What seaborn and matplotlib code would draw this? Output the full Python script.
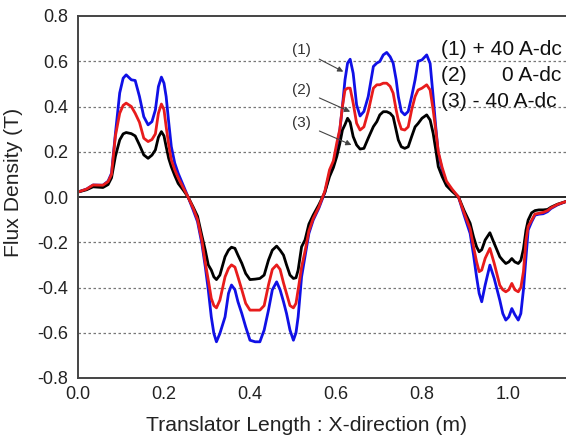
import numpy as np
import pandas as pd
import matplotlib
matplotlib.use("Agg")
import matplotlib.pyplot as plt
import seaborn as sns

# ---- data ----
x_pos = [0.000, 0.020, 0.035, 0.058, 0.070, 0.078, 0.087, 0.097, 0.105, 0.112,
         0.124, 0.133, 0.143, 0.153, 0.163, 0.172, 0.180, 0.187, 0.194, 0.200,
         0.205, 0.211, 0.217, 0.225, 0.233, 0.245, 0.256, 0.268, 0.278, 0.288,
         0.296, 0.303, 0.310, 0.316, 0.322, 0.330, 0.342, 0.350, 0.357, 0.365,
         0.372, 0.381, 0.390, 0.400, 0.412, 0.423, 0.433, 0.443, 0.452, 0.462,
         0.470, 0.478, 0.485, 0.493, 0.501, 0.507, 0.512, 0.520, 0.528, 0.537,
         0.547, 0.560, 0.574, 0.585, 0.594, 0.602, 0.609, 0.615, 0.621, 0.627,
         0.633, 0.640, 0.648, 0.656, 0.665, 0.675, 0.687, 0.695, 0.702, 0.710,
         0.718, 0.726, 0.733, 0.740, 0.745, 0.752, 0.760, 0.768, 0.776, 0.784,
         0.791, 0.800, 0.811, 0.819, 0.826, 0.832, 0.838, 0.847, 0.857, 0.870,
         0.885, 0.898, 0.912, 0.920, 0.927, 0.933, 0.939, 0.947, 0.958, 0.968,
         0.981, 0.988, 0.995, 1.002, 1.009, 1.016, 1.024, 1.030, 1.036, 1.042,
         1.047, 1.055, 1.063, 1.072, 1.082, 1.092, 1.100, 1.115, 1.135]

flux_plus40 = [0.022, 0.035, 0.053, 0.052, 0.070, 0.105, 0.280, 0.460, 0.525, 0.540,
               0.518, 0.515, 0.444, 0.355, 0.319, 0.333, 0.385, 0.488, 0.530, 0.503,
               0.444, 0.330, 0.223, 0.150, 0.105, 0.050, 0.000, -0.058, -0.109, -0.205,
               -0.308, -0.410, -0.530, -0.603, -0.640, -0.603, -0.530, -0.426, -0.389, -0.410,
               -0.463, -0.515, -0.574, -0.633, -0.640, -0.640, -0.588, -0.500, -0.410, -0.375,
               -0.410, -0.463, -0.515, -0.588, -0.633, -0.600, -0.530, -0.353, -0.264, -0.161,
               -0.102, -0.050, 0.020, 0.105, 0.149, 0.223, 0.296, 0.400, 0.518, 0.592,
               0.609, 0.547, 0.407, 0.358, 0.378, 0.444, 0.577, 0.592, 0.599, 0.628,
               0.639, 0.620, 0.592, 0.518, 0.444, 0.378, 0.363, 0.378, 0.444, 0.518,
               0.600, 0.606, 0.628, 0.590, 0.444, 0.311, 0.193, 0.120, 0.060, 0.030,
               0.000, -0.080, -0.161, -0.257, -0.353, -0.426, -0.463, -0.389, -0.301, -0.360,
               -0.456, -0.515, -0.544, -0.530, -0.493, -0.520, -0.544, -0.515, -0.410, -0.264,
               -0.146, -0.110, -0.080, -0.076, -0.074, -0.065, -0.051, -0.035, -0.020]

flux_zero = [0.022, 0.035, 0.053, 0.052, 0.068, 0.100, 0.270, 0.370, 0.405, 0.415,
             0.400, 0.370, 0.330, 0.260, 0.245, 0.254, 0.279, 0.370, 0.411, 0.386,
             0.311, 0.230, 0.164, 0.120, 0.085, 0.040, 0.000, -0.050, -0.100, -0.190,
             -0.290, -0.367, -0.448, -0.480, -0.490, -0.456, -0.353, -0.316, -0.300, -0.310,
             -0.353, -0.410, -0.470, -0.500, -0.500, -0.500, -0.480, -0.389, -0.320, -0.300,
             -0.320, -0.380, -0.426, -0.480, -0.490, -0.470, -0.410, -0.310, -0.240, -0.150,
             -0.095, -0.045, 0.025, 0.120, 0.160, 0.240, 0.300, 0.400, 0.473, 0.481,
             0.481, 0.415, 0.326, 0.296, 0.310, 0.378, 0.481, 0.496, 0.496, 0.503,
             0.503, 0.489, 0.459, 0.385, 0.340, 0.300, 0.296, 0.310, 0.385, 0.444,
             0.473, 0.481, 0.496, 0.473, 0.385, 0.296, 0.200, 0.130, 0.070, 0.035,
             0.000, -0.070, -0.140, -0.220, -0.286, -0.330, -0.323, -0.271, -0.227, -0.293,
             -0.390, -0.410, -0.419, -0.410, -0.382, -0.410, -0.419, -0.400, -0.330, -0.190,
             -0.130, -0.102, -0.075, -0.072, -0.068, -0.060, -0.048, -0.033, -0.020]

flux_minus40 = [0.022, 0.032, 0.045, 0.042, 0.055, 0.085, 0.180, 0.252, 0.279, 0.285,
                0.280, 0.270, 0.230, 0.186, 0.171, 0.185, 0.208, 0.264, 0.289, 0.270,
                0.223, 0.170, 0.134, 0.095, 0.060, 0.030, 0.000, -0.045, -0.085, -0.170,
                -0.235, -0.300, -0.323, -0.353, -0.365, -0.345, -0.264, -0.235, -0.222, -0.227,
                -0.257, -0.293, -0.338, -0.365, -0.363, -0.360, -0.345, -0.279, -0.235, -0.217,
                -0.235, -0.257, -0.300, -0.345, -0.360, -0.357, -0.323, -0.220, -0.190, -0.120,
                -0.080, -0.035, 0.020, 0.090, 0.130, 0.180, 0.237, 0.296, 0.320, 0.348,
                0.330, 0.267, 0.230, 0.212, 0.215, 0.260, 0.311, 0.333, 0.363, 0.377,
                0.377, 0.370, 0.355, 0.296, 0.252, 0.222, 0.215, 0.222, 0.267, 0.310,
                0.325, 0.348, 0.363, 0.340, 0.282, 0.210, 0.134, 0.090, 0.050, 0.025,
                0.000, -0.060, -0.116, -0.177, -0.220, -0.242, -0.233, -0.190, -0.158, -0.205,
                -0.264, -0.280, -0.294, -0.287, -0.272, -0.287, -0.294, -0.280, -0.230, -0.146,
                -0.102, -0.070, -0.060, -0.057, -0.057, -0.055, -0.045, -0.032, -0.020]

series_names = ["(1) + 40 A-dc", "(2)      0 A-dc", "(3) - 40 A-dc"]
x_ticks = [0.0, 0.2, 0.4, 0.6, 0.8, 1.0]
y_ticks = [-0.8, -0.6, -0.4, -0.2, 0.0, 0.2, 0.4, 0.6, 0.8]

df = pd.concat([
    pd.DataFrame({"x": x_pos, "B": flux_plus40, "case": series_names[0]}),
    pd.DataFrame({"x": x_pos, "B": flux_minus40, "case": series_names[2]}),
    pd.DataFrame({"x": x_pos, "B": flux_zero, "case": series_names[1]}),
], ignore_index=True)

sns.set_theme(style="white")
plt.rcParams["font.family"] = ["Liberation Sans", "DejaVu Sans"]

fig = plt.figure(figsize=(5.66, 4.42), dpi=100)
ax = fig.add_axes([78/566, 1-378/442, 1-78/566, (378-16)/442])

palette = {series_names[0]: "#1010e6", series_names[1]: "#e81c1c", series_names[2]: "#000000"}
sns.lineplot(data=df, x="x", y="B", hue="case", palette=palette, sort=False,
             estimator=None, linewidth=2.0, legend=False, ax=ax)

ax.set_xlim(0, 1.135)
ax.set_ylim(-0.8, 0.8)
ax.set_xticks(x_ticks)
ax.set_xticklabels([f"{t:.1f}" for t in x_ticks], fontsize=13, color="#222")
ax.set_yticks(y_ticks)
ax.set_yticklabels([f"{t:.1f}" for t in y_ticks], fontsize=13, color="#222")
ax.tick_params(axis="x", direction="in", length=6, width=1.2, color="#444", pad=6)
ax.tick_params(axis="y", direction="in", length=4, width=1.0, color="#444", pad=7)

for t in [-0.6, -0.4, -0.2, 0.2, 0.4, 0.6]:
    ax.axhline(t, color="#777", lw=0.9, ls=(0, (2, 2)), zorder=0)
ax.axhline(0, color="black", lw=1.2, zorder=1)

for s in ["left", "bottom", "top"]:
    ax.spines[s].set_color("#444")
    ax.spines[s].set_linewidth(1.4)
ax.spines["right"].set_visible(False)

ax.set_xlabel("Translator Length : X-direction (m)", fontsize=15.2, color="#222")
ax.set_ylabel("Flux Density (T)", fontsize=15.2, color="#222")
ax.xaxis.set_label_coords(0.469, -0.105)
ax.yaxis.set_label_coords(-0.112, 0.54)

# series legend as text block
for i, name in enumerate(series_names):
    ax.text(0.845, 0.65 - i * 0.115, name, fontsize=15.1, color="#111",
            ha="left", va="center", transform=ax.transData)

# curve labels with arrows
ann = [("(1)", (0.52, 0.65), (0.617, 0.554)),
       ("(2)", (0.52, 0.473), (0.633, 0.377)),
       ("(3)", (0.52, 0.326), (0.636, 0.23))]
for lbl, xy_text, xy_tip in ann:
    ax.annotate(lbl, xy=xy_tip, xytext=xy_text, fontsize=11, color="#333",
                ha="center", va="center",
                arrowprops=dict(arrowstyle="-|>", color="#444", lw=0.8,
                                mutation_scale=8, shrinkA=4, shrinkB=0))

fig.savefig("out.png", dpi=100)
